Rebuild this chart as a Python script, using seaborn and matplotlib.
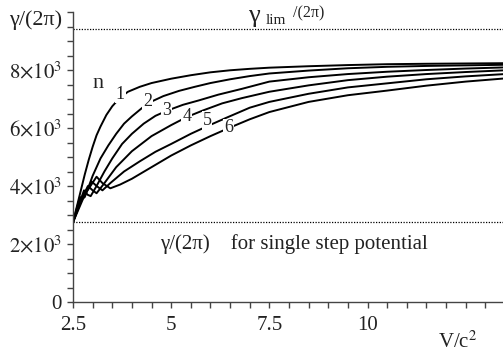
import matplotlib
matplotlib.use('Agg')
import matplotlib.pyplot as plt
from matplotlib.ticker import MultipleLocator, FixedLocator, FixedFormatter
import seaborn as sns
import pandas as pd

sns.set_theme(style='ticks')
plt.rcParams['font.family'] = ['Liberation Serif', 'DejaVu Serif']
plt.rcParams['mathtext.fontset'] = 'stix'

# ---- data (V/c^2, gamma/(2 pi)) ----
x1 = [2.5, 2.6, 2.7, 2.8, 2.9, 3.0, 3.1, 3.2, 3.35, 3.5, 3.7, 3.9, 4.2, 4.5, 5.0, 5.5,
      6.0, 6.5, 7.0, 7.5, 8.5, 9.5, 10.5, 11.5, 12.5, 13.5]
y1 = [2750, 3300, 3850, 4400, 4900, 5350, 5750, 6050, 6450, 6750, 7050, 7250, 7420, 7550,
      7700, 7820, 7920, 7990, 8040, 8080, 8130, 8170, 8200, 8215, 8225, 8235]
x2 = [2.5, 2.6, 2.68, 2.74, 2.8, 2.9, 3.0, 3.2, 3.4, 3.6, 3.8, 4.0, 4.4, 4.8, 5.2, 5.6,
      6.0, 6.5, 7.0, 7.5, 8.5, 9.5, 10.5, 11.5, 12.5, 13.5]
y2 = [2750, 3250, 3620, 3560, 3620, 3980, 4350, 4950, 5400, 5800, 6150, 6400, 6850, 7100,
      7280, 7420, 7550, 7680, 7790, 7880, 7980, 8060, 8110, 8140, 8160, 8180]
x3 = [2.5, 2.65, 2.78, 2.87, 2.95, 3.1, 3.3, 3.5, 3.75, 4.0, 4.3, 4.6, 4.9, 5.3, 5.7,
      6.2, 6.8, 7.5, 8.5, 9.5, 10.5, 11.5, 12.5, 13.5]
y3 = [2750, 3350, 3850, 3700, 3650, 4000, 4500, 4950, 5450, 5800, 6150, 6420, 6600, 6800,
      6950, 7150, 7350, 7600, 7750, 7860, 7940, 8000, 8050, 8090]
x4 = [2.5, 2.7, 2.88, 3.0, 3.1, 3.3, 3.6, 4.0, 4.5, 5.0, 5.4, 5.8, 6.3, 6.8, 7.5, 8.5,
      9.5, 10.5, 11.5, 12.5, 13.5]
y4 = [2750, 3500, 4000, 3850, 3750, 4100, 4650, 5200, 5720, 6100, 6380, 6600, 6850, 7030,
      7250, 7470, 7650, 7770, 7860, 7930, 7990]
x5 = [2.5, 2.75, 2.98, 3.1, 3.25, 3.45, 3.8, 4.2, 4.6, 5.0, 5.5, 5.9, 6.4, 7.0, 7.5, 8.5,
      9.5, 10.5, 11.5, 12.5, 13.5]
y5 = [2750, 3650, 4150, 4000, 3850, 4100, 4500, 4850, 5180, 5450, 5800, 6050, 6350, 6700,
      6900, 7180, 7400, 7540, 7680, 7780, 7860]
x6 = [2.5, 2.8, 3.1, 3.25, 3.45, 3.7, 4.0, 4.5, 5.0, 5.5, 6.0, 6.47, 7.0, 7.5, 8.5, 9.5,
      10.5, 11.5, 12.5, 13.5]
y6 = [2750, 3700, 4320, 4100, 3920, 4050, 4250, 4650, 5050, 5400, 5720, 6000, 6300, 6550,
      6900, 7130, 7290, 7460, 7600, 7710]

curve_names = ['1', '2', '3', '4', '5', '6']
label_x = [3.70, 4.40, 4.89, 5.40, 5.91, 6.47]
label_y = [7170, 6930, 6590, 6400, 6250, 6000]

gamma_lim = 9410
gamma_single = 2750

xticks = [2.5, 5, 7.5, 10, 12.5]
xticklabels = ['2.5', '5', '7.5', '10', '']
yticks = [0, 2000, 4000, 6000, 8000, 10000]
yticklabels = ['0', r'$2{\times}10^{3}$', r'$4{\times}10^{3}$', r'$6{\times}10^{3}$',
               r'$8{\times}10^{3}$', '']

frames = []
for name, xs, ys in zip(curve_names, [x1, x2, x3, x4, x5, x6], [y1, y2, y3, y4, y5, y6]):
    frames.append(pd.DataFrame({'V': xs, 'gamma': ys, 'n': name}))
df = pd.concat(frames, ignore_index=True)

W, H = 503, 352
fig = plt.figure(figsize=(W / 100, H / 100), dpi=100)
ax = fig.add_axes([73 / W, 50 / H, 430 / W, 290 / H])

sns.lineplot(data=df, x='V', y='gamma', units='n', estimator=None, sort=False,
             color='black', lw=1.4, ax=ax, legend=False)

ax.axhline(gamma_lim, color='black', lw=0.9, ls=(0, (1, 1.2)))
ax.axhline(gamma_single, color='black', lw=0.9, ls=(0, (1, 1.2)))

for name, lx, ly in zip(curve_names, label_x, label_y):
    ax.text(lx, ly, name, ha='center', va='center', fontsize=13, color='#222222',
            bbox=dict(fc='white', ec='none', pad=0.6), zorder=5)
ax.text(3.14, 7550, 'n', ha='center', va='center', fontsize=16, color='#222222')

ax.set_xlim(2.5, 13.45)
ax.set_ylim(0, 10000)
ax.xaxis.set_major_locator(FixedLocator(xticks))
ax.xaxis.set_major_formatter(FixedFormatter(xticklabels))
ax.xaxis.set_minor_locator(MultipleLocator(0.5))
ax.yaxis.set_major_locator(FixedLocator(yticks))
ax.yaxis.set_major_formatter(FixedFormatter(yticklabels))
ax.yaxis.set_minor_locator(MultipleLocator(500))
ax.set_xlabel('')
ax.set_ylabel('')
for s in ['top', 'right']:
    ax.spines[s].set_visible(False)
for s in ['left', 'bottom']:
    ax.spines[s].set_color('#444444')
    ax.spines[s].set_linewidth(1.0)
ax.tick_params(which='both', direction='out', color='#444444', width=1.0,
               labelsize=15, labelcolor='#222222')
ax.tick_params(which='major', length=4, pad=4)
ax.tick_params(which='minor', length=4)
ax.tick_params(axis='x', pad=6)

fig.text(62 / W, 1 - 20 / H, 'γ/(2π)', ha='right', va='center', fontsize=16, color='#222222')
fig.text(458 / W, 1 - 342 / H, r'V/c$^{2}$', ha='center', va='center', fontsize=15, color='#222222')
fig.text(254 / W, 1 - 16 / H, 'γ', ha='center', va='center', fontsize=19, color='#222222')
fig.text(276 / W, 1 - 21 / H, 'lim', ha='center', va='center', fontsize=11, color='#222222')
fig.text(309 / W, 1 - 13 / H, '/(2π)', ha='center', va='center', fontsize=11.5, color='#222222')
fig.text(160 / W, 1 - 244 / H, 'γ/(2π)    for single step potential',
         ha='left', va='center', fontsize=15, color='#222222')

fig.savefig('out.png', dpi=100)
